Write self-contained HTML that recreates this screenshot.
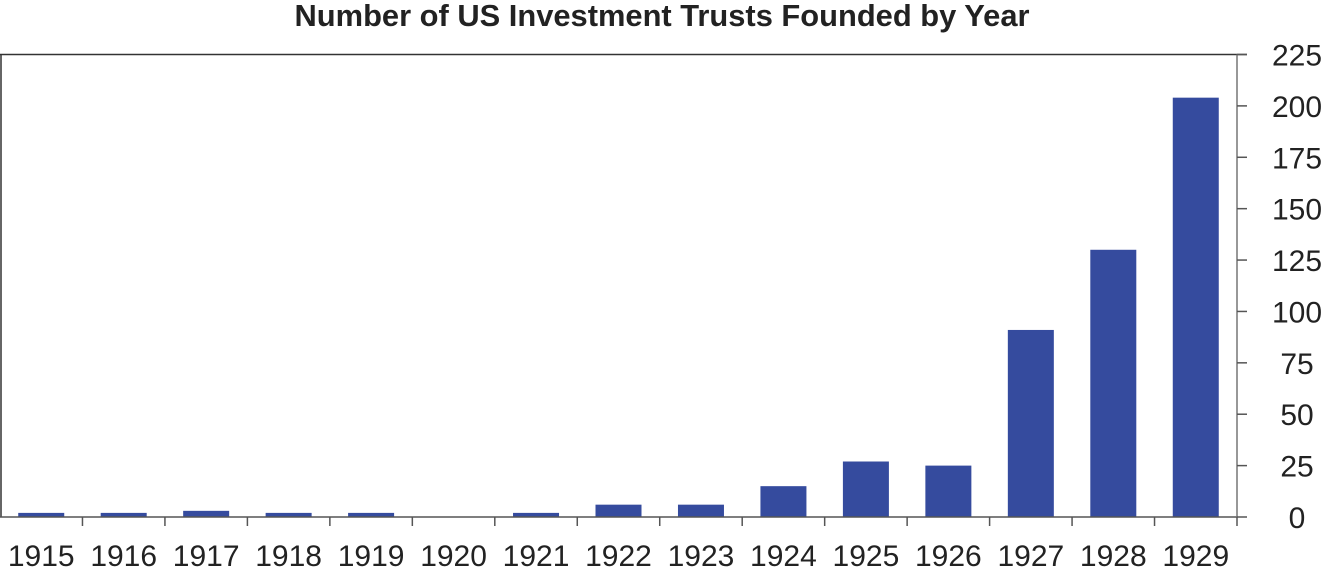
<!DOCTYPE html>
<html><head><meta charset="utf-8"><style>
body{margin:0;background:#fff;}
svg{display:block;font-family:"Liberation Sans",sans-serif;}
</style></head><body>
<svg id="chart" width="1325" height="569" viewBox="0 0 1325 569">
<text x="662" y="26" text-anchor="middle" font-size="30.5" font-weight="bold" fill="#222" textLength="735" lengthAdjust="spacingAndGlyphs">Number of US Investment Trusts Founded by Year</text>
<line x1="0" y1="54.5" x2="1247" y2="54.5" stroke="#333" stroke-width="1.5"/>
<line x1="1" y1="54" x2="1" y2="517" stroke="#333" stroke-width="1.5"/>
<g id="bars"></g>
<g id="axes"></g>
</svg>
<script>
const categories=["1915","1916","1917","1918","1919","1920","1921","1922","1923","1924","1925","1926","1927","1928","1929"];
const values=[2,2,3,2,2,0,2,6,6,15,27,25,91,130,204];
const yTicks=[0,25,50,75,100,125,150,175,200,225];
const NS="http://www.w3.org/2000/svg";
const x0=0,x1=1237,yTop=54.5,yBot=517,yMax=225;
const bw=(x1-x0)/categories.length;
function xs(i){return x0+i*bw;}
function ys(v){return yBot-(v/yMax)*(yBot-yTop);}
function mk(tag,attrs,parent){const e=document.createElementNS(NS,tag);for(const k in attrs)e.setAttribute(k,attrs[k]);parent.appendChild(e);return e;}
const bars=document.getElementById('bars'),axes=document.getElementById('axes');
values.forEach((v,i)=>{
  const cx=xs(i)+bw/2;
  const r=mk('rect',{x:cx-23,y:ys(v),width:46,height:yBot-ys(v),fill:'#354b9e'},bars);
  
  
  const t=mk('text',{x:cx,y:566,'text-anchor':'middle','font-size':30,fill:'#222'},axes);
  t.textContent=categories[i];
  
  
});
const xa=mk('line',{x1:0,y1:yBot,x2:x1,y2:yBot,stroke:'#555','stroke-width':1.5},axes);


for(let i=1;i<=categories.length;i++){
  const tk=mk('line',{x1:xs(i),y1:yBot,x2:xs(i),y2:yBot+9,stroke:'#555','stroke-width':1.5},axes);
  
  
}
const ya=mk('line',{x1:x1,y1:yTop,x2:x1,y2:yBot,stroke:'#777','stroke-width':1.5},axes);


yTicks.forEach(v=>{
  const tk=mk('line',{x1:x1,y1:ys(v),x2:x1+10,y2:ys(v),stroke:'#555','stroke-width':1.5},axes);
  
  
  const t=mk('text',{x:1297,y:ys(v)+11,'text-anchor':'middle','font-size':30,fill:'#222'},axes);
  t.textContent=v;
  
  
});
</script>
</body></html>
